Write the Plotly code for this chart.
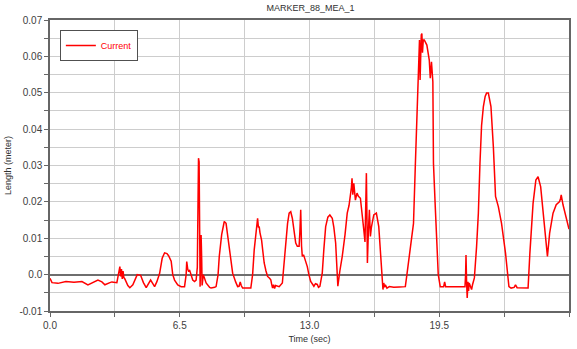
import plotly.graph_objects as go

time_s = [0.0, 0.1, 0.4, 0.8, 1.2, 1.6, 1.9, 2.1, 2.4, 2.6, 2.75, 3.0, 3.1, 3.35, 3.45, 3.5, 3.54, 3.58, 3.62, 3.66, 3.7, 3.75,
          3.9, 4.0, 4.15, 4.3, 4.37, 4.54, 4.68, 4.82, 4.95, 5.04, 5.15, 5.24, 5.35, 5.49, 5.62, 5.74, 5.86, 5.94, 6.07,
          6.15, 6.24, 6.4, 6.57, 6.74, 6.82, 6.85, 6.9, 6.95, 6.99, 7.05, 7.15, 7.24, 7.32, 7.38, 7.41, 7.44, 7.47, 7.5,
          7.52, 7.55, 7.57, 7.6, 7.62, 7.68, 7.75, 7.82, 8.0, 8.07, 8.25, 8.32, 8.42, 8.48, 8.6, 8.73, 8.82, 8.9, 8.98,
          9.08, 9.15, 9.3, 9.4, 9.47, 9.53, 9.58, 9.65, 10.06, 10.15, 10.23, 10.32, 10.37, 10.4, 10.44, 10.48, 10.52,
          10.56, 10.6, 10.65, 10.73, 10.82, 10.9, 11.0, 11.06, 11.1, 11.15, 11.2, 11.25, 11.3, 11.48, 11.64, 11.73,
          11.81, 11.9, 11.98, 12.06, 12.14, 12.22, 12.31, 12.39, 12.48, 12.52, 12.56, 12.6, 12.64, 12.7, 12.76, 12.89,
          12.97, 13.06, 13.22, 13.3, 13.39, 13.45, 13.52, 13.64, 13.72, 13.81, 13.92, 14.02, 14.14, 14.22, 14.31,
          14.38, 14.42, 14.52, 14.64, 14.78, 14.89, 14.98, 15.05, 15.1, 15.13, 15.17, 15.22, 15.26, 15.3, 15.38,
          15.45, 15.55, 15.62, 15.7, 15.72, 15.78, 15.83, 15.85, 15.88, 15.9, 15.95, 16.0, 16.05, 16.1, 16.22, 16.35,
          16.47, 16.55, 16.6, 16.64, 16.68, 16.72, 16.76, 16.8, 16.88, 17.0, 17.22, 17.5, 17.8, 17.88, 18.05, 18.21,
          18.3, 18.38, 18.46, 18.51, 18.54, 18.57, 18.6, 18.63, 18.66, 18.7, 18.75, 18.88, 18.95, 19.0, 19.05, 19.11,
          19.18, 19.21, 19.3, 19.38, 19.45, 19.55, 19.72, 19.77, 19.82, 20.3, 20.79, 20.82, 20.84, 20.87, 20.9, 20.94,
          20.97, 21.0, 21.06, 21.12, 21.17, 21.26, 21.37, 21.46, 21.54, 21.62, 21.71, 21.8, 21.87, 21.96, 22.09,
          22.21, 22.32, 22.46, 22.62, 22.82, 22.99, 23.1, 23.25, 23.32, 23.4, 23.95, 24.04, 24.2, 24.34, 24.45, 24.58,
          24.75, 24.92, 25.03, 25.2, 25.36, 25.53, 25.58, 25.61, 25.7, 25.85, 26.0]

length_m = [-0.001, -0.0022, -0.0024, -0.0019, -0.0021, -0.0019, -0.0028, -0.0022, -0.0015, -0.002, -0.0028, -0.0022,
            -0.002, -0.0022, 0.0005, 0.0022, -0.0005, 0.0015, -0.0012, 0.001, -0.0008, -0.0012,
            -0.003, -0.0036, -0.0028, -0.0005, 0.0, -0.0002, -0.0022, -0.0036, -0.0022, -0.0015, -0.0025, -0.0033,
            -0.002, 0.0003, 0.0045, 0.006, 0.0058, 0.0052, 0.0037,
            0.0, -0.0015, -0.0028, -0.0033, -0.0033, 0.0, 0.0036, 0.0015, 0.0008, 0.0013, 0.0004, -0.0015, -0.0019,
            -0.0015, 0.002, 0.03, 0.032, 0.031, 0.012,
            -0.0033, 0.005, 0.0109, 0.004, -0.003, 0.0, -0.001, -0.0023, -0.0035, -0.0037, -0.0035, -0.0033, 0.0,
            0.005, 0.011, 0.0146, 0.0141, 0.011, 0.0068,
            0.003, 0.0004, -0.002, -0.0033, -0.0032, -0.002, -0.003, -0.0037, -0.0037, 0.0, 0.0068, 0.012, 0.014,
            0.0155, 0.013, 0.0132, 0.0115,
            0.0105, 0.0095, 0.007, 0.0032, 0.001, -0.0005, -0.001, -0.0014, -0.0025, -0.0037, -0.0028, -0.0038,
            -0.003, -0.0033, -0.0023, 0.0041,
            0.008, 0.014, 0.0169, 0.0173, 0.0155, 0.012, 0.0087, 0.0078, 0.0078, 0.012, 0.0178, 0.008, 0.005, 0.0055,
            0.0045, 0.0022,
            0.0, -0.0019, -0.0032, -0.0025, -0.0027, -0.0035, -0.0032, 0.0005, 0.007, 0.0132, 0.0158, 0.0164, 0.0155,
            0.013, 0.0087,
            0.002, -0.0032, 0.001, 0.005, 0.011, 0.0169, 0.019, 0.0215, 0.024, 0.0265, 0.022, 0.0251, 0.0225, 0.0205,
            0.0224,
            0.0215, 0.021, 0.018, 0.013, 0.0123, 0.009, 0.02, 0.0279, 0.015, 0.0032, 0.012, 0.0178, 0.0105, 0.013,
            0.0164, 0.0169,
            0.0132, 0.006, 0.0013, -0.002, -0.0041, -0.0023, -0.0035, -0.0028, -0.0037, -0.0033, -0.0035, -0.0034,
            -0.0033, 0.0, 0.0077, 0.0141,
            0.0297, 0.0425, 0.0517, 0.0645, 0.0535, 0.064, 0.0659, 0.0663, 0.061, 0.0645, 0.0645, 0.0631, 0.061, 0.059,
            0.054, 0.0585,
            0.053, 0.0306, 0.0187, 0.0068, 0.0, -0.0033, -0.0033, -0.002, -0.0033, -0.0033, -0.0033, 0.0, 0.0054,
            -0.002, -0.0064, -0.002,
            -0.0045, -0.0023, -0.0035, -0.0041, -0.0027, -0.0009, 0.0077, 0.0169, 0.0306, 0.041, 0.0462, 0.049,
            0.0499, 0.0499, 0.0462,
            0.0352, 0.0215, 0.0187, 0.0141, 0.0059, -0.0033, -0.0037, -0.0035, -0.0028, -0.0036, -0.0037, 0.0059,
            0.0196, 0.026, 0.0269, 0.0242,
            0.0151, 0.005, 0.0114, 0.0169, 0.0192, 0.0201, 0.021, 0.0219, 0.0192, 0.016, 0.0125]

x_tick_vals = [0.0, 6.5, 13.0, 19.5, 26.0]
x_tick_text = ["0.0", "6.5", "13.0", "19.5", "26.0"]
y_tick_vals = [-0.01, 0.0, 0.01, 0.02, 0.03, 0.04, 0.05, 0.06, 0.07]
y_tick_text = ["-0.01", "0.0", "0.01", "0.02", "0.03", "0.04", "0.05", "0.06", "0.07"]

FONT = "Liberation Sans, Arial, sans-serif"
GRID = "#cdcdcd"
AXIS = "#666666"

fig = go.Figure()
fig.add_trace(go.Scatter(x=time_s, y=length_m, mode="lines", name="Current",
                         line=dict(color="#ff0000", width=1.5)))

fig.update_layout(
    width=577, height=349,
    margin=dict(l=50, r=6, t=20, b=38),
    paper_bgcolor="white", plot_bgcolor="white",
    font=dict(family=FONT, size=10, color="#404040"),
    title=dict(text="MARKER_88_MEA_1", x=0.538, xanchor="center", y=0.978, yanchor="middle",
               font=dict(family=FONT, size=9, color="#303030")),
    showlegend=True,
    legend=dict(x=0.019, y=0.966, xanchor="left", yanchor="top",
                bgcolor="white", bordercolor="#505050", borderwidth=1,
                font=dict(family=FONT, size=9, color="#ff0000"),
                itemwidth=30, tracegroupgap=0),
)

fig.update_xaxes(
    range=[0, 26], tickvals=x_tick_vals, ticktext=x_tick_text,
    showgrid=True, gridcolor=GRID, gridwidth=1,
    minor=dict(dtick=3.25, tick0=0, showgrid=True, gridcolor=GRID, gridwidth=1,
               ticks="outside", ticklen=4, tickcolor=AXIS),
    ticks="outside", ticklen=4, tickcolor=AXIS,
    showline=True, linecolor=AXIS, linewidth=1.5, mirror=True,
    zeroline=False,
    tickfont=dict(family=FONT, size=10, color="#404040"),
    title=dict(text="Time (sec)", font=dict(family=FONT, size=9, color="#303030"), standoff=6),
)
fig.update_yaxes(
    range=[-0.01, 0.07], tickvals=y_tick_vals, ticktext=y_tick_text,
    showgrid=True, gridcolor=GRID, gridwidth=1,
    minor=dict(dtick=0.005, tick0=0, showgrid=True, gridcolor=GRID, gridwidth=1,
               ticks="outside", ticklen=4, tickcolor=AXIS),
    ticks="outside", ticklen=4, tickcolor=AXIS,
    showline=True, linecolor=AXIS, linewidth=1.5, mirror=True,
    zeroline=True, zerolinecolor="#6e6e6e", zerolinewidth=2,
    tickfont=dict(family=FONT, size=10, color="#404040"),
    title=dict(text="Length (meter)", font=dict(family=FONT, size=9, color="#303030"), standoff=6),
)

fig.write_html("out.html")
